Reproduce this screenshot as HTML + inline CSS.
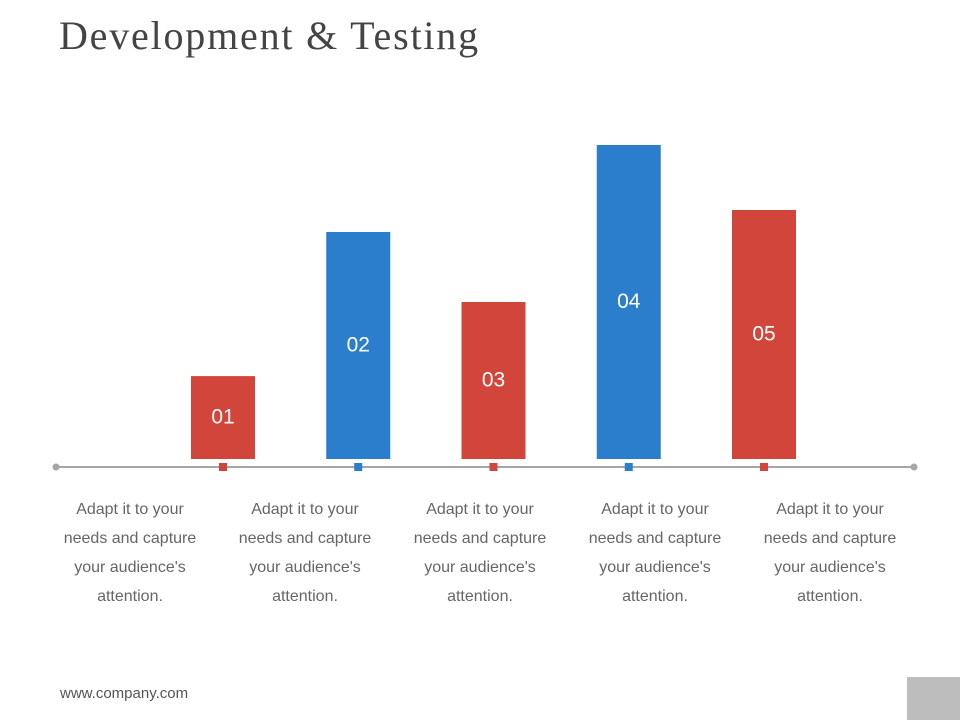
<!DOCTYPE html>
<html><head><meta charset="utf-8"><style>
body{margin:0;width:960px;height:720px;background:#fff;position:relative;overflow:hidden;font-family:"Liberation Sans",sans-serif}
.title{position:absolute;left:59px;top:12px;font-family:"Liberation Serif",serif;font-size:40px;letter-spacing:1.8px;color:#444}
.desc{position:absolute;top:495px;width:140px;text-align:center;font-size:16px;line-height:29px;color:#666}
.footer{position:absolute;left:60px;top:685px;font-size:15px;color:#555}
.corner{position:absolute;left:907px;top:677px;width:53px;height:43px;background:#bdbdbd}
</style></head><body>
<div class="title">Development &amp; Testing</div>
<svg id="chart" width="960" height="720" style="position:absolute;left:0;top:0"></svg>
<div class="desc" style="left:60px">Adapt it to your needs and capture your audience's attention.</div>
<div class="desc" style="left:235px">Adapt it to your needs and capture your audience's attention.</div>
<div class="desc" style="left:410px">Adapt it to your needs and capture your audience's attention.</div>
<div class="desc" style="left:585px">Adapt it to your needs and capture your audience's attention.</div>
<div class="desc" style="left:760px">Adapt it to your needs and capture your audience's attention.</div>
<div class="footer">www.company.com</div>
<div class="corner"></div>
<script>
const categories = ["01","02","03","04","05"];
const values = [26.4, 72.3, 50, 100, 79.3];
const colorKeys = ["red","blue","red","blue","red"];
const ns="http://www.w3.org/2000/svg";
const svg=document.getElementById('chart');
const COLORS={red:"#d2453a",blue:"#2a7ecb"};
const base=459, top0=145, maxV=100;
function y(v){return base-(v/maxV)*(base-top0);}
function xc(i){return 223+i*135.25;}
const bw=64;
function mk(t,a){const e=document.createElementNS(ns,t);for(const k in a)e.setAttribute(k,a[k]);svg.appendChild(e);return e;}
const ax=mk('line',{x1:56,y1:467,x2:914,y2:467,stroke:"#a6a6a6","stroke-width":2});


[56,914].forEach(cx=>{const c=mk('circle',{cx:cx,cy:467,r:3.5,fill:"#a6a6a6"});

});
values.forEach((v,i)=>{
 const col=COLORS[colorKeys[i]];
 const r=mk('rect',{x:xc(i)-bw/2,y:y(v),width:bw,height:base-y(v),fill:col});
 
 
 const t=mk('text',{x:xc(i),y:(y(v)+base)/2+6,"text-anchor":"middle",fill:"#fff","font-size":21,"font-family":"Liberation Sans, sans-serif"});
 t.textContent=categories[i];
 
 
 const m=mk('rect',{x:xc(i)-4,y:463,width:8,height:8,fill:col});
 
 
});
</script>
</body></html>
